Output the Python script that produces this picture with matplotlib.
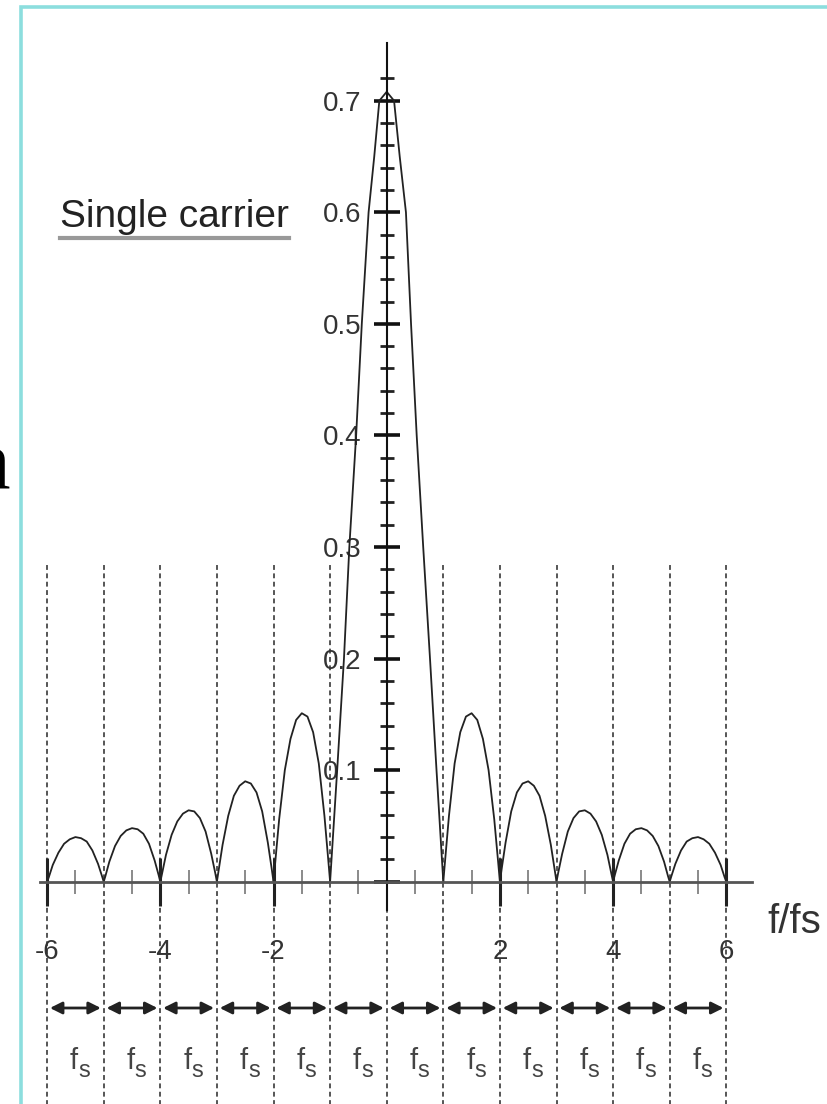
import numpy as np
import matplotlib
matplotlib.use('Agg')
import matplotlib.pyplot as plt
from matplotlib.ticker import FixedLocator, FixedFormatter
from matplotlib.lines import Line2D
from matplotlib.patches import Rectangle

NARROW = ['Liberation Sans Narrow', 'DejaVu Sans Condensed', 'Liberation Sans', 'DejaVu Sans']
REGULAR = ['Liberation Sans', 'DejaVu Sans']
plt.rcParams['font.family'] = NARROW

# ---- data ----
# main lobe (f/fs, amplitude)
main_x = [-1.0, -0.875, -0.755, -0.66, -0.54, -0.44, -0.32, -0.22, -0.13, 0.0,
          0.13, 0.23, 0.34, 0.43, 0.53, 0.645, 0.765, 0.88, 1.0]
main_y = [0.0, 0.1, 0.2, 0.3, 0.4, 0.5, 0.6, 0.65, 0.7, 0.708,
          0.7, 0.65, 0.6, 0.5, 0.4, 0.3, 0.2, 0.1, 0.0]

# side lobes: sample offsets inside each unit interval and the values there
lobe_t = [0, 0.03, 0.1, 0.2, 0.3, 0.4, 0.5, 0.6, 0.7, 0.8, 0.9, 0.97, 1.0]
lobe_m6 = [0, 0.004, 0.015, 0.026, 0.034, 0.038, 0.040, 0.039, 0.036, 0.028, 0.016, 0.005, 0]
lobe_m5 = [0, 0.005, 0.018, 0.032, 0.041, 0.046, 0.048, 0.047, 0.043, 0.034, 0.019, 0.006, 0]
lobe_m4 = [0, 0.007, 0.024, 0.042, 0.054, 0.061, 0.064, 0.063, 0.057, 0.045, 0.025, 0.008, 0]
lobe_m3 = [0, 0.010, 0.033, 0.059, 0.077, 0.086, 0.090, 0.088, 0.080, 0.063, 0.035, 0.011, 0]
lobe_m2 = [0, 0.017, 0.056, 0.100, 0.128, 0.145, 0.151, 0.148, 0.134, 0.106, 0.059, 0.018, 0]
lobe_p1 = [0, 0.018, 0.059, 0.106, 0.134, 0.148, 0.151, 0.145, 0.128, 0.100, 0.056, 0.017, 0]
lobe_p2 = [0, 0.011, 0.035, 0.063, 0.080, 0.088, 0.090, 0.086, 0.077, 0.059, 0.033, 0.010, 0]
lobe_p3 = [0, 0.008, 0.025, 0.045, 0.057, 0.063, 0.064, 0.061, 0.054, 0.042, 0.024, 0.007, 0]
lobe_p4 = [0, 0.006, 0.019, 0.034, 0.043, 0.047, 0.048, 0.046, 0.041, 0.032, 0.018, 0.005, 0]
lobe_p5 = [0, 0.005, 0.016, 0.028, 0.036, 0.039, 0.040, 0.038, 0.034, 0.026, 0.015, 0.004, 0]
lobe_start = [-6, -5, -4, -3, -2, 1, 2, 3, 4, 5]
lobes = [lobe_m6, lobe_m5, lobe_m4, lobe_m3, lobe_m2,
         lobe_p1, lobe_p2, lobe_p3, lobe_p4, lobe_p5]

x_ticks = [-6, -4, -2, 2, 4, 6]
x_labels = ['-6', '-4', '-2', '2', '4', '6']
x_minor = [-5.5, -4.5, -3.5, -2.5, -1.5, -0.5, 0.5, 1.5, 2.5, 3.5, 4.5, 5.5]
y_ticks = [0, 0.1, 0.2, 0.3, 0.4, 0.5, 0.6, 0.7]
y_labels = ['', '0.1', '0.2', '0.3', '0.4', '0.5', '0.6', '0.7']
div_x = [-6, -5, -4, -3, -2, -1, 0, 1, 2, 3, 4, 5, 6]
band_label = 'f'
band_sub = 's'

# ---- layout: pixel frame of the picture ----
W, H = 827, 1104
X0, SX = 386.7, 56.6      # origin px, px per unit on x
Y0, SY = 881.7, 1115.7    # origin px (from top), px per unit on y


def px2x(p):
    return (p - X0) / SX


def py2y(p):
    return (Y0 - p) / SY


fig = plt.figure(figsize=(W / 100, H / 100), dpi=100)
ax = fig.add_axes([0, 0, 1, 1])
ax.set_xlim(px2x(0), px2x(W))
ax.set_ylim(py2y(H), py2y(0))

# axes through the origin
for s in ['top', 'right']:
    ax.spines[s].set_visible(False)
ax.spines['left'].set_position(('data', 0))
ax.spines['bottom'].set_position(('data', 0))
ax.spines['left'].set_bounds(py2y(910), py2y(43))
ax.spines['bottom'].set_bounds(px2x(40), px2x(752))
ax.spines['left'].set_linewidth(1.5)
ax.spines['left'].set_color('#111111')
ax.spines['bottom'].set_linewidth(2.0)
ax.spines['bottom'].set_color('#555555')
ax.spines['left'].set_zorder(4)
ax.spines['bottom'].set_zorder(4)

ax.yaxis.set_major_locator(FixedLocator(y_ticks))
ax.yaxis.set_major_formatter(FixedFormatter(y_labels))
ax.yaxis.set_minor_locator(FixedLocator(list(np.arange(0.02, 0.73, 0.02))))
ax.tick_params(axis='y', which='major', direction='inout', length=19, width=2.6,
               color='#111111', pad=8.5, labelsize=20, labelcolor='#333333')
ax.tick_params(axis='y', which='minor', direction='inout', length=9.5, width=2.0,
               color='#222222')

ax.xaxis.set_major_locator(FixedLocator(x_ticks))
ax.xaxis.set_major_formatter(FixedFormatter(x_labels))
ax.xaxis.set_minor_locator(FixedLocator(x_minor))
ax.tick_params(axis='x', which='major', direction='inout', length=34, width=2.2,
               color='#222222', pad=24, labelsize=20, labelcolor='#333333')
ax.tick_params(axis='x', which='minor', direction='inout', length=17, width=1.2,
               color='#777777')

# dashed dividers
ax.vlines(div_x, py2y(H) - 0.01, py2y(565), colors='#555555', lw=1.4,
          linestyles=(0, (2.5, 1.8)), zorder=1)

# spectrum curve
ax.plot(main_x, main_y, color='#222222', lw=1.3, zorder=3)
for x_s, vals in zip(lobe_start, lobes):
    ax.plot([x_s + t for t in lobe_t], vals, color='#222222', lw=1.3, zorder=3)

# fs arrows and labels
y_arrow = py2y(1008)
gap = 0.05
for n in div_x[:-1]:
    ax.annotate('', xy=(n + 1 - gap, y_arrow), xytext=(n + gap, y_arrow),
                arrowprops=dict(arrowstyle='<|-|>,head_length=0.72,head_width=0.36',
                                lw=2.0, color='#222222', shrinkA=0, shrinkB=0,
                                mutation_scale=10))
    xc = n + 0.55
    ax.text(xc, py2y(1069), band_label, ha='right', va='baseline',
            fontsize=21, color='#444444')
    ax.text(xc, py2y(1077), band_sub, ha='left', va='baseline',
            fontsize=17, color='#444444')

# axis label
ax.text(px2x(767), py2y(933), 'f/fs', ha='left', va='baseline',
        fontsize=29, color='#333333', family=REGULAR)

# title with underline
title = fig.text(60 / W, 1 - 227 / H, 'Single carrier', ha='left', va='baseline',
                 fontsize=28, color='#222222', family=REGULAR)
fig.canvas.draw()
bb = title.get_window_extent()
fig.add_artist(Line2D([bb.x0 / W, bb.x1 / W], [1 - 238 / H, 1 - 238 / H],
                      transform=fig.transFigure, color='#999999', lw=3))

# stray letter cut by the left edge (as in the source picture)
fig.text(10 / W, 1 - 487 / H, 'n', ha='right', va='baseline', fontsize=60,
         color='black', family=['Liberation Serif', 'DejaVu Serif'])

# teal frame
fig.add_artist(Rectangle((20.5 / W, -0.05), 1.2, 1.05 - 6.5 / H,
                         transform=fig.transFigure, fill=False,
                         edgecolor='#8cdede', lw=2.6))

fig.savefig('out.png', dpi=100)
